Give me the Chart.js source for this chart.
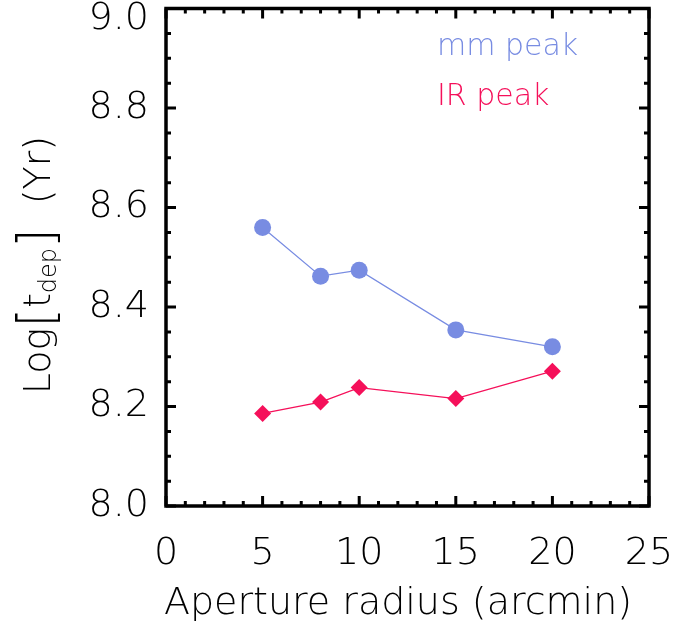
<!DOCTYPE html>
<html>
<head>
<meta charset="utf-8">
<script src="https://cdn.jsdelivr.net/npm/chart.js@4.4.0/dist/chart.umd.min.js"></script>
<style>
  html, body { margin: 0; padding: 0; background: #fff; }
  #wrap { width: 676px; height: 636px; }
</style>
</head>
<body>
<div id="wrap"><canvas id="chart" width="676" height="636"></canvas></div>
<script>
// aperture radius (arcmin) and log depletion time for each peak
const radii = [5, 8, 10, 15, 20];
const mmPeak = [8.56, 8.462, 8.474, 8.354, 8.32];
const irPeak = [8.186, 8.209, 8.238, 8.216, 8.271];

const seriesNames = ['mm peak', 'IR peak'];
const xTickLabels = [0, 5, 10, 15, 20, 25];
const yTickLabels = [8.0, 8.2, 8.4, 8.6, 8.8, 9.0];

const blue = '#788ce2';
const pink = '#f5105a';
const FONT = '"DejaVu Sans", sans-serif';

const toPoints = (xs, ys) => xs.map((x, i) => ({ x: x, y: ys[i] }));

// IDL-style frame: box, inward ticks on all four sides, labels and titles
const idlFrame = {
  id: 'idlFrame',
  afterDraw(chart) {
    const { ctx, chartArea: a, scales: { x, y } } = chart;
    ctx.save();
    ctx.strokeStyle = '#000';
    ctx.lineWidth = 3.5;
    ctx.strokeRect(a.left, a.top, a.right - a.left, a.bottom - a.top);

    ctx.lineWidth = 3;
    ctx.beginPath();
    for (let i = 0; i <= 25; i++) {
      const px = x.getPixelForValue(x.min + i);
      const len = i % 5 === 0 ? 10 : 5;
      ctx.moveTo(px, a.bottom); ctx.lineTo(px, a.bottom - len);
      ctx.moveTo(px, a.top); ctx.lineTo(px, a.top + len);
    }
    for (let i = 0; i <= 20; i++) {
      const py = y.getPixelForValue(y.min + i * 0.05);
      const len = i % 4 === 0 ? 10 : 5;
      ctx.moveTo(a.left, py); ctx.lineTo(a.left + len, py);
      ctx.moveTo(a.right, py); ctx.lineTo(a.right - len, py);
    }
    ctx.stroke();

    ctx.fillStyle = '#000';
    ctx.font = '200 38px ' + FONT;
    ctx.textBaseline = 'middle';
    ctx.textAlign = 'center';
    xTickLabels.forEach(v => ctx.fillText(String(v), x.getPixelForValue(v), 554));
    ctx.textAlign = 'right';
    yTickLabels.forEach(v => {
      const py = Math.max(y.getPixelForValue(v), 19);
      ctx.fillText(v.toFixed(1), 149, py);
    });

    ctx.textAlign = 'center';
    ctx.fillText('Aperture radius (arcmin)', 398, 604);

    // y title: Log[t_dep] (Yr), rotated
    const parts = [
      { t: 'Log', f: 38, dy: 0 },
      { t: '[', f: 50, dy: 3 },
      { t: 't', f: 38, dy: 0 },
      { t: 'dep', f: 24, dy: 6 },
      { t: ']', f: 50, dy: 3 },
      { t: '  (Yr)', f: 38, dy: 0 }
    ];
    let total = 0;
    parts.forEach(p => { ctx.font = '200 ' + p.f + 'px ' + FONT; p.w = ctx.measureText(p.t).width; total += p.w; });
    ctx.save();
    ctx.translate(50, 265);
    ctx.rotate(-Math.PI / 2);
    ctx.textAlign = 'left';
    ctx.textBaseline = 'alphabetic';
    let cx = -total / 2;
    parts.forEach(p => {
      ctx.font = '200 ' + p.f + 'px ' + FONT;
      ctx.fillText(p.t, cx, p.dy);
      cx += p.w;
    });
    ctx.restore();

    // legend as coloured text
    ctx.font = '200 30px ' + FONT;
    ctx.textAlign = 'left';
    ctx.textBaseline = 'alphabetic';
    chart.data.datasets.forEach((ds, i) => {
      ctx.fillStyle = ds.borderColor;
      ctx.fillText(ds.label, 437, 55 + i * 50);
    });
    ctx.restore();
  }
};

new Chart(document.getElementById('chart'), {
  type: 'line',
  plugins: [idlFrame],
  data: {
    datasets: [
      {
        label: seriesNames[0],
        data: toPoints(radii, mmPeak),
        borderColor: blue,
        backgroundColor: blue,
        borderWidth: 1.3,
        pointStyle: 'circle',
        pointRadius: 8.5,
        pointBorderWidth: 0
      },
      {
        label: seriesNames[1],
        data: toPoints(radii, irPeak),
        borderColor: pink,
        backgroundColor: pink,
        borderWidth: 1.3,
        pointStyle: 'rectRot',
        pointRadius: 8.5,
        pointBorderWidth: 0
      }
    ]
  },
  options: {
    responsive: false,
    animation: false,
    layout: { padding: { top: 6, right: 27, left: 0, bottom: 0 } },
    plugins: { legend: { display: false }, tooltip: { enabled: false } },
    scales: {
      x: {
        type: 'linear', min: 0, max: 25,
        ticks: { display: false },
        grid: { display: false },
        border: { display: false },
        afterFit: s => { s.height = 130; }
      },
      y: {
        type: 'linear', min: 8.0, max: 9.0,
        ticks: { display: false },
        grid: { display: false },
        border: { display: false },
        afterFit: s => { s.width = 166; }
      }
    }
  }
});
</script>
</body>
</html>
